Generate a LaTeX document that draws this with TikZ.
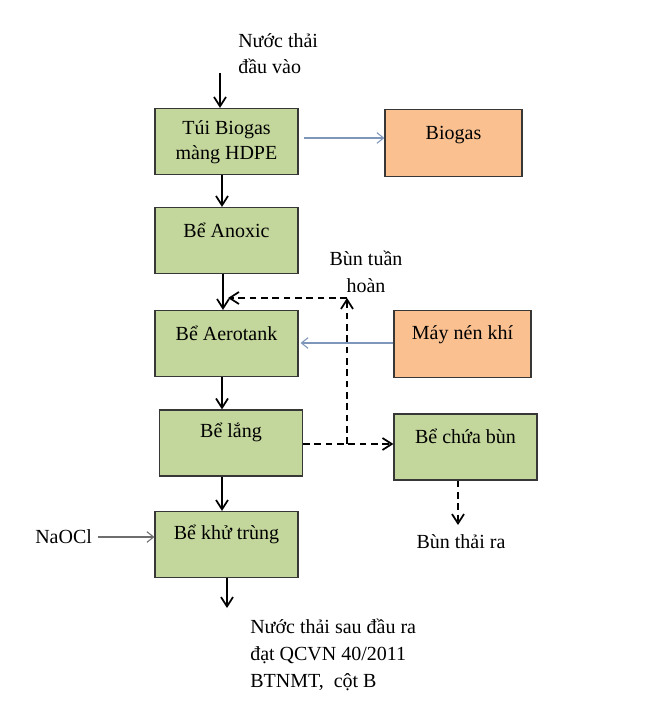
\documentclass[tikz,border=0pt]{standalone}
\usepackage{fontspec}
\setmainfont{Liberation Serif}
\usetikzlibrary{arrows.meta}
\definecolor{boxgreen}{RGB}{195,214,155}
\definecolor{boxorange}{RGB}{250,192,144}
\definecolor{boxline}{RGB}{55,55,55}
\definecolor{bluearrow}{RGB}{125,150,185}
\definecolor{greyarrow}{RGB}{110,110,110}
\tikzset{
  gbox/.style={draw=boxline, line width=0.9pt, fill=boxgreen, minimum width=143*0.75pt, minimum height=66*0.75pt, inner sep=0pt},
  obox/.style={draw=boxline, line width=0.9pt, fill=boxorange, minimum width=137*0.75pt, minimum height=67*0.75pt, inner sep=0pt},
  lbl/.style={font=\fontsize{15}{20}\selectfont, align=left, inner sep=0pt},
  btxt/.style={font=\fontsize{15}{19}\selectfont, align=center, inner sep=0pt, anchor=center},
  flow/.style={line width=1.3pt, -{Straight Barb[length=7pt,width=9pt,line width=1.3pt]}},
  dflow/.style={line width=1.3pt, dash pattern=on 5pt off 3.5pt, -{Straight Barb[length=7pt,width=9pt,line width=1.3pt]}},
  thinflow/.style={line width=0.8pt, -{Straight Barb[length=5pt,width=8pt,line width=0.8pt]}},
}
\begin{document}
\begin{tikzpicture}[x=0.75pt,y=-0.75pt]
\useasboundingbox[fill=white] (0,0) rectangle (650,706);
% boxes
\node[gbox] (tui) at (226.5,141.5) {};
\node[btxt] (tuit) at (226.5,142) {Túi Biogas\\màng HDPE};
\node[obox] (bio) at (453.5,143) {};
\node[btxt] (biot) at (453.5,135) {Biogas};
\node[gbox] (anox) at (226.5,240.5) {};
\node[btxt] (anoxt) at (226.5,230) {Bể Anoxic};
\node[gbox] (aero) at (226.5,343.5) {};
\node[btxt] (aerot) at (226.5,333) {Bể Aerotank};
\node[obox] (may) at (462.5,344) {};
\node[btxt] (mayt) at (462.5,335) {Máy nén khí};
\node[gbox] (lang) at (231,443) {};
\node[btxt] (langt) at (231,432) {Bể lắng};
\node[gbox] (chua) at (465.5,447) {};
\node[btxt] (chuat) at (465.5,436) {Bể chứa bùn};
\node[gbox] (khu) at (226.5,544.5) {};
\node[btxt] (khut) at (226.5,534) {Bể khử trùng};
% texts
\node[lbl, anchor=north west] (inp) at (238,33) {Nước thải\\đầu vào};
\node[lbl, anchor=north west] (out) at (250,619) {Nước thải sau đầu ra\\đạt QCVN 40/2011\\BTNMT,\ \ cột B};
\node[lbl, anchor=west] (naocl) at (35,537) {NaOCl};
\node[lbl, anchor=center] (bthai) at (461,542) {Bùn thải ra};
\node[lbl, anchor=north, align=center] (btuan) at (366,251) {Bùn tuần\\hoàn};
% coordinates
\coordinate (in0) at (220,73);
\coordinate (xa) at (222,0);
\coordinate (xb) at (223,0);
\coordinate (o1) at (227,608);
\coordinate (rj) at (347,444);
\coordinate (rt) at (347,298);
\coordinate (ra) at (228,298);
\coordinate (bt) at (458,525);
\coordinate (yb) at (0,138);
\coordinate (ym) at (0,343);
\coordinate (yn) at (0,537);
% main flow
\draw[flow] (in0) -- (in0 |- tui.north);
\draw[flow] (xa |- tui.south) -- (xa |- anox.north);
\draw[flow] (xb |- anox.south) -- (xb |- aero.north);
\draw[flow] (xa |- aero.south) -- (xa |- lang.north);
\draw[flow] (xa |- lang.south) -- (xa |- khu.north);
\draw[flow] (o1 |- khu.south) -- (o1);
% thin arrows
\draw[thinflow, draw=bluearrow] ([xshift=3.8pt]tui.east |- yb) -- (bio.west |- yb);
\draw[thinflow, draw=bluearrow] (may.west |- ym) -- ([xshift=1.5pt]aero.east |- ym);
\draw[thinflow, draw=greyarrow] ([xshift=4pt]naocl.east |- yn) -- (khu.west |- yn);
% dashed
\draw[dflow] (lang.east |- rj) -- (chua.west |- rj);
\draw[dflow] (rj) -- (rt);
\draw[dflow] (rt) -- (ra);
\draw[dflow] (chua.south -| bt) -- (bt);
\end{tikzpicture}
\end{document}
